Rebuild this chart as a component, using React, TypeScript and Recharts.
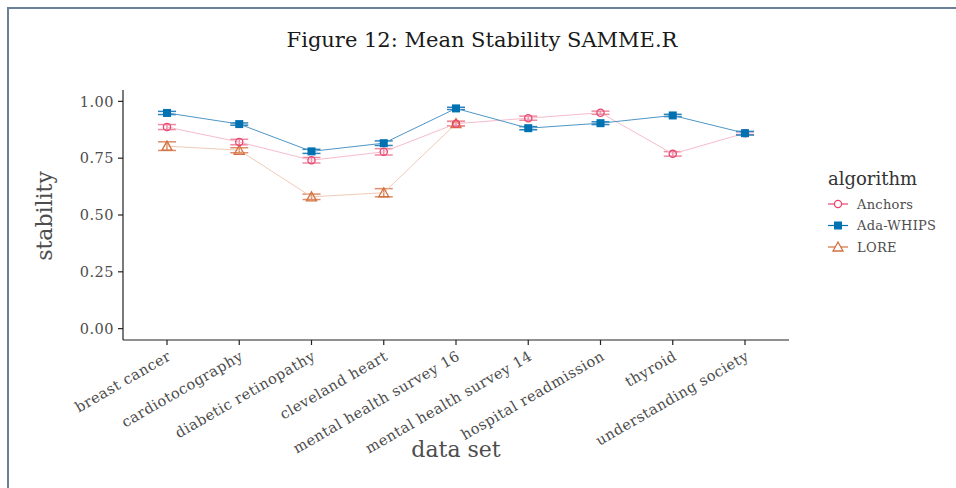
import React from "react";
import { LineChart, Line, XAxis, YAxis, ErrorBar } from "recharts";

const categories = [
  "breast cancer",
  "cardiotocography",
  "diabetic retinopathy",
  "cleveland heart",
  "mental health survey 16",
  "mental health survey 14",
  "hospital readmission",
  "thyroid",
  "understanding society",
];

const anchors = [0.887, 0.821, 0.741, 0.778, 0.902, 0.926, 0.95, 0.769, 0.86];
const anchorsErr = [0.011, 0.012, 0.012, 0.014, 0.01, 0.009, 0.007, 0.01, 0.006];

const adaWhips = [0.949, 0.9, 0.78, 0.816, 0.969, 0.882, 0.904, 0.938, 0.86];
const adaWhipsErr = [0.007, 0.005, 0.009, 0.01, 0.005, 0.007, 0.006, 0.005, 0.008];

const lore = [0.803, 0.785, 0.58, 0.598, 0.902, null, null, null, null];
const loreErr = [0.019, 0.011, 0.012, 0.018, 0.01, null, null, null, null];

const yTicks = [0, 0.25, 0.5, 0.75, 1];

const RED = "#e8466f";
const BLUE = "#0072b2";
const ORANGE = "#d4703f";
const FONT = "'DejaVu Serif', serif";

const data = categories.map((name, i) => ({
  name,
  anchors: anchors[i],
  anchorsErr: anchorsErr[i],
  adaWhips: adaWhips[i],
  adaWhipsErr: adaWhipsErr[i],
  lore: lore[i],
  loreErr: loreErr[i],
}));

const CircleDot = (props: any) => {
  const { cx, cy } = props;
  if (cx == null || cy == null || props.value == null) return null;
  return <circle cx={cx} cy={cy} r={3.6} fill="none" stroke={RED} strokeWidth={1.3} />;
};

const SquareDot = (props: any) => {
  const { cx, cy } = props;
  if (cx == null || cy == null || props.value == null) return null;
  return <rect x={cx - 4} y={cy - 4} width={8} height={8} fill={BLUE} />;
};

const TriangleDot = (props: any) => {
  const { cx, cy } = props;
  if (cx == null || cy == null || props.value == null) return null;
  const p = `${cx},${cy - 5} ${cx + 5},${cy + 4} ${cx - 5},${cy + 4}`;
  return <polygon points={p} fill="none" stroke={ORANGE} strokeWidth={1.3} />;
};

const XTick = (props: any) => {
  const { x, y, payload } = props;
  return (
    <text
      x={x + 5}
      y={y + 12}
      transform={`rotate(-30, ${x + 5}, ${y + 12})`}
      textAnchor="end"
      fill="#4d4d4d"
      fontSize={14.5}
      letterSpacing={0.5}
      fontFamily={FONT}
    >
      {payload.value}
    </text>
  );
};

const legendItems = [
  { label: "Anchors", color: RED, kind: "circle" },
  { label: "Ada-WHIPS", color: BLUE, kind: "square" },
  { label: "LORE", color: ORANGE, kind: "triangle" },
];

export default function App() {
  return (
    <div style={{ position: "absolute", left: 0, top: 0, width: 956, height: 488, overflow: "hidden", background: "#fff" }}>
      <div
        style={{
          position: "absolute",
          left: 7,
          top: 7,
          width: 1000,
          height: 600,
          borderLeft: "2px solid #6a7f99",
          borderTop: "2px solid #6a7f99",
        }}
      />
      <div
        style={{
          position: "absolute",
          left: 0,
          top: 28,
          width: 964,
          textAlign: "center",
          fontFamily: FONT,
          fontSize: 21,
          color: "#1a1a1a",
        }}
      >
        Figure 12: Mean Stability SAMME.R
      </div>
      <div style={{ position: "absolute", left: 0, top: 0 }}>
        <LineChart
          width={956}
          height={488}
          data={data}
          margin={{ top: 90, right: 167, bottom: 0, left: 63 }}
        >
          <XAxis
            dataKey="name"
            type="category"
            padding={{ left: 44, right: 44 }}
            tick={<XTick />}
            tickSize={5}
            tickMargin={2}
            interval={0}
            height={148}
            stroke="#222"
            axisLine={{ stroke: "#222", strokeWidth: 1.2 }}
            tickLine={{ stroke: "#222", strokeWidth: 1.2 }}
          />
          <YAxis
            type="number"
            domain={[-0.05, 1.05]}
            ticks={yTicks}
            tickFormatter={(v: number) => v.toFixed(2)}
            width={60}
            tickSize={5}
            tickMargin={4}
            tick={{ fill: "#4d4d4d", fontSize: 14.5, fontFamily: FONT, letterSpacing: 0.5 }}
            axisLine={{ stroke: "#222", strokeWidth: 1.2 }}
            tickLine={{ stroke: "#222", strokeWidth: 1.2 }}
            allowDataOverflow
          />
          <Line
            dataKey="lore"
            stroke="#f0cbb6"
            strokeWidth={1}
            dot={<TriangleDot />}
            activeDot={false}
            isAnimationActive={false}
          >
            <ErrorBar dataKey="loreErr" width={9} stroke="#dc8f68" strokeWidth={1.5} direction="y" />
          </Line>
          <Line
            dataKey="anchors"
            stroke="#f6bccb"
            strokeWidth={1}
            dot={<CircleDot />}
            activeDot={false}
            isAnimationActive={false}
          >
            <ErrorBar dataKey="anchorsErr" width={9} stroke="#ef8aa3" strokeWidth={1.5} direction="y" />
          </Line>
          <Line
            dataKey="adaWhips"
            stroke="#4f96c6"
            strokeWidth={1}
            dot={<SquareDot />}
            activeDot={false}
            isAnimationActive={false}
          >
            <ErrorBar dataKey="adaWhipsErr" width={9} stroke="#2f84bd" strokeWidth={1.5} direction="y" />
          </Line>
        </LineChart>
      </div>
      <svg style={{ position: "absolute", left: 0, top: 0 }} width={956} height={488}>
        <text
          x={0}
          y={0}
          transform="translate(52, 216) rotate(-90)"
          textAnchor="middle"
          fontFamily={FONT}
          fontSize={22}
          fill="#4d4d4d"
        >
          stability
        </text>
        <text x={456} y={457} textAnchor="middle" fontFamily={FONT} fontSize={22} fill="#4d4d4d">
          data set
        </text>
        <text x={828} y={185} fontFamily={FONT} fontSize={18} fill="#333">
          algorithm
        </text>
        {legendItems.map((it, i) => {
          const cy = 204 + i * 21.5;
          return (
            <g key={it.label}>
              <line x1={828} x2={848} y1={cy} y2={cy} stroke={it.color} strokeWidth={1.2} />
              {it.kind === "circle" && (
                <circle cx={838} cy={cy} r={3.6} fill="#fff" stroke={it.color} strokeWidth={1.3} />
              )}
              {it.kind === "square" && <rect x={834} y={cy - 4} width={8} height={8} fill={it.color} />}
              {it.kind === "triangle" && (
                <polygon
                  points={`838,${cy - 5} 843,${cy + 4} 833,${cy + 4}`}
                  fill="#fff"
                  stroke={it.color}
                  strokeWidth={1.3}
                />
              )}
              <text x={857} y={cy + 4.5} fontFamily={FONT} fontSize={13} letterSpacing={0.3} fill="#4d4d4d">
                {it.label}
              </text>
            </g>
          );
        })}
      </svg>
    </div>
  );
}
